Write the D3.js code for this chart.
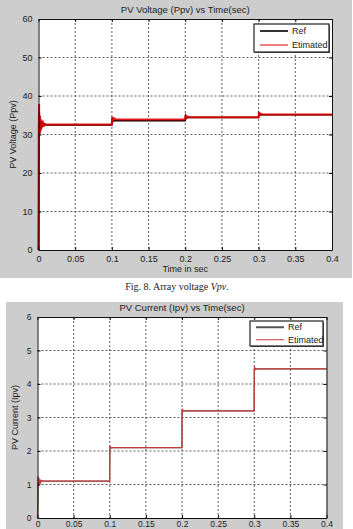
<!DOCTYPE html>
<html>
<head>
<meta charset="utf-8">
<script src="https://cdn.jsdelivr.net/npm/d3@7"></script>
<style>
  body { margin: 0; background: #fff; }
  svg { display: block; }
  text { font-family: "Liberation Sans", Arial, sans-serif; fill: #222; }
</style>
</head>
<body>
<svg id="chart" width="353" height="529"></svg>
<script>
// time axis ticks (shared by both plots)
var xTicks = [0, 0.05, 0.1, 0.15, 0.2, 0.25, 0.3, 0.35, 0.4];
var xTickLabels = ["0", "0.05", "0.1", "0.15", "0.2", "0.25", "0.3", "0.35", "0.4"];

// PV voltage plot
var voltTicks = [0, 10, 20, 30, 40, 50, 60];
var voltRefT = [0, 0.0004, 0.0009, 0.0014, 0.0019, 0.0026, 0.0033, 0.004, 0.005, 0.006, 0.008, 0.011, 0.0999, 0.1005, 0.102, 0.104, 0.1999, 0.2005, 0.202, 0.205, 0.2999, 0.3005, 0.302, 0.305, 0.4];
var voltRefV = [0, 17, 36, 30, 34.5, 31, 33.5, 31.8, 33.2, 32.3, 32.8, 32.5, 32.5, 34.3, 33.5, 33.6, 33.6, 34.9, 34.3, 34.4, 34.4, 35.6, 35.0, 35.1, 35.1];
var voltEstT = [0, 0.0003, 0.0008, 0.0013, 0.0018, 0.0024, 0.003, 0.0037, 0.0045, 0.0055, 0.0065, 0.008, 0.011, 0.0999, 0.1004, 0.1015, 0.103, 0.106, 0.1999, 0.2004, 0.2015, 0.203, 0.206, 0.2999, 0.3004, 0.3015, 0.303, 0.306, 0.4];
var voltEstV = [0, 30, 37.9, 30, 35, 30.5, 34, 31.3, 33.6, 31.9, 33.0, 32.3, 32.6, 32.6, 34.6, 33.6, 34.2, 33.9, 33.9, 35.0, 34.3, 34.7, 34.5, 34.5, 35.8, 35.0, 35.4, 35.2, 35.2];

// PV current plot
var currTicks = [0, 1, 2, 3, 4, 5, 6];
var currRefT = [0, 0.0005, 0.001, 0.0016, 0.0022, 0.003, 0.004, 0.006, 0.0999, 0.1, 0.1003, 0.102, 0.1999, 0.2, 0.2003, 0.202, 0.2999, 0.3, 0.3003, 0.302, 0.4];
var currRefV = [0, 0.5, 1.2, 1.0, 1.15, 1.05, 1.12, 1.1, 1.1, 1.55, 2.12, 2.1, 2.1, 2.7, 3.22, 3.2, 3.2, 3.8, 4.47, 4.45, 4.45];
var currEstT = [0, 0.0004, 0.0009, 0.0014, 0.002, 0.0027, 0.0035, 0.0045, 0.006, 0.008, 0.0999, 0.1, 0.1005, 0.102, 0.104, 0.1999, 0.2, 0.2005, 0.202, 0.204, 0.2999, 0.3, 0.3005, 0.302, 0.304, 0.4];
var currEstV = [0, 0.9, 1.25, 0.95, 1.2, 1.0, 1.15, 1.05, 1.12, 1.1, 1.1, 2.1, 2.14, 2.08, 2.1, 2.1, 3.2, 3.24, 3.18, 3.2, 3.2, 4.45, 4.5, 4.43, 4.45, 4.45];

var legendNames = ["Ref", "Etimated"];

var svg = d3.select("#chart");

function drawPanel(cfg) {
    var p = cfg.panel, m = cfg.plot;

    svg.append("rect")
        .attr("x", p.x).attr("y", p.y)
        .attr("width", p.w).attr("height", p.h)
        .attr("fill", "#cdcdcd");

    var g = svg.append("g")
        .attr("transform", "translate(" + m.x + "," + m.y + ")");

    var x = d3.scaleLinear().domain([0, 0.4]).range([0, m.w]);
    var y = d3.scaleLinear().domain(cfg.yDomain).range([m.h, 0]);

    g.append("rect")
        .attr("width", m.w).attr("height", m.h)
        .attr("fill", "#fff");

    // dotted grid
    g.append("g").selectAll("line").data(xTicks.slice(1, -1)).enter().append("line")
        .attr("x1", d => x(d)).attr("x2", d => x(d))
        .attr("y1", 0).attr("y2", m.h)
        .attr("stroke", "#333").attr("stroke-width", 0.8)
        .attr("stroke-dasharray", "2,2");
    g.append("g").selectAll("line").data(cfg.yTicks.slice(1, -1)).enter().append("line")
        .attr("x1", 0).attr("x2", m.w)
        .attr("y1", d => y(d)).attr("y2", d => y(d))
        .attr("stroke", "#333").attr("stroke-width", 0.8)
        .attr("stroke-dasharray", "2,2");

    // lines
    var line = d3.line().x(d => x(d[0])).y(d => y(d[1]));
    var refData = d3.zip(cfg.refT, cfg.refV);
    var estData = d3.zip(cfg.estT, cfg.estV);
    g.append("path").datum(refData)
        .attr("d", line).attr("fill", "none")
        .attr("stroke", cfg.refColor).attr("stroke-width", cfg.refWidth);
    g.append("path").datum(estData)
        .attr("d", line).attr("fill", "none")
        .attr("stroke", cfg.estColor).attr("stroke-width", cfg.estWidth)
        .attr("stroke-opacity", 0.9);

    // axes with inward ticks, MATLAB style
    var xAxis = d3.axisBottom(x).tickValues(xTicks)
        .tickFormat((d, i) => xTickLabels[i])
        .tickSizeInner(-3).tickSizeOuter(0).tickPadding(cfg.xPad);
    var yAxis = d3.axisLeft(y).tickValues(cfg.yTicks)
        .tickFormat(d3.format("d"))
        .tickSizeInner(-3).tickSizeOuter(0).tickPadding(6);

    g.append("g").attr("transform", "translate(0," + m.h + ")").call(xAxis);
    g.append("g").call(yAxis);
    g.append("g").call(d3.axisTop(x).tickValues(xTicks).tickFormat("").tickSizeInner(-3).tickSizeOuter(0));
    g.append("g").attr("transform", "translate(" + m.w + ",0)")
        .call(d3.axisRight(y).tickValues(cfg.yTicks).tickFormat("").tickSizeInner(-3).tickSizeOuter(0));
    g.selectAll(".domain").attr("stroke", "#111");
    g.selectAll(".tick line").attr("stroke", "#111");
    g.selectAll(".tick text").style("font-size", cfg.tickFont).attr("fill", "#222");

    // titles
    svg.append("text")
        .attr("x", m.x + m.w / 2).attr("y", m.y - 6)
        .attr("text-anchor", "middle")
        .style("font-size", "9.5px")
        .text(cfg.title);
    if (cfg.xLabel) {
        svg.append("text")
            .attr("x", m.x + m.w / 2).attr("y", m.y + m.h + 22)
            .attr("text-anchor", "middle")
            .style("font-size", "9px")
            .text(cfg.xLabel);
    }
    svg.append("text")
        .attr("transform", "translate(" + cfg.yLabelX + "," + (m.y + m.h / 2) + ") rotate(-90)")
        .attr("text-anchor", "middle")
        .style("font-size", "9px")
        .text(cfg.yLabel);

    // legend
    var L = cfg.legend;
    var lg = svg.append("g").attr("transform", "translate(" + L.x + "," + L.y + ")");
    lg.append("rect")
        .attr("x", 1).attr("y", 1)
        .attr("width", L.w).attr("height", L.h)
        .attr("fill", "#555");
    lg.append("rect")
        .attr("width", L.w).attr("height", L.h)
        .attr("fill", "#fff").attr("stroke", "#222").attr("stroke-width", 1.2);
    var colors = [cfg.refColor, cfg.estColor];
    var widths = [cfg.refLegendWidth, 1];
    legendNames.forEach(function(name, i) {
        var yy = L.h / 4 + i * L.h / 2;
        lg.append("line")
            .attr("x1", 6).attr("x2", 34)
            .attr("y1", yy).attr("y2", yy)
            .attr("stroke", colors[i]).attr("stroke-width", widths[i]);
        lg.append("text")
            .attr("x", 38).attr("y", yy + 3)
            .style("font-size", "9px")
            .text(name);
    });
}

drawPanel({
    panel: { x: 0, y: 0, w: 352, h: 278 },
    plot: { x: 38.5, y: 19, w: 293.5, h: 231 },
    yDomain: [0, 60], yTicks: voltTicks,
    refT: voltRefT, refV: voltRefV, estT: voltEstT, estV: voltEstV,
    refColor: "#000", refWidth: 1.5, refLegendWidth: 1.6,
    estColor: "#e00000", estWidth: 2,
    xPad: 6, tickFont: "9px",
    title: "PV Voltage (Ppv) vs Time(sec)",
    xLabel: "Time in sec",
    yLabel: "PV Voltage (Ppv)", yLabelX: 16,
    legend: { x: 254, y: 24, w: 75, h: 28 }
});

drawPanel({
    panel: { x: 6, y: 302, w: 337, h: 227 },
    plot: { x: 37.5, y: 317, w: 289, h: 201 },
    yDomain: [0, 6], yTicks: currTicks,
    refT: currRefT, refV: currRefV, estT: currEstT, estV: currEstV,
    refColor: "#555", refWidth: 1.2, refLegendWidth: 2,
    estColor: "#d23a3a", estWidth: 1.2,
    xPad: 3, tickFont: "8.5px",
    title: "PV Current (Ipv) vs Time(sec)",
    xLabel: null,
    yLabel: "PV Current (Ipv)", yLabelX: 18,
    legend: { x: 250, y: 321, w: 73, h: 25 }
});

// caption between the two plots
svg.append("text")
    .attr("x", 177).attr("y", 290)
    .attr("text-anchor", "middle")
    .style("font-family", "'Liberation Serif', 'DejaVu Serif', serif")
    .style("font-size", "10px")
    .html('Fig. 8. Array voltage <tspan font-style="italic">Vpv</tspan>.');
</script>
</body>
</html>
